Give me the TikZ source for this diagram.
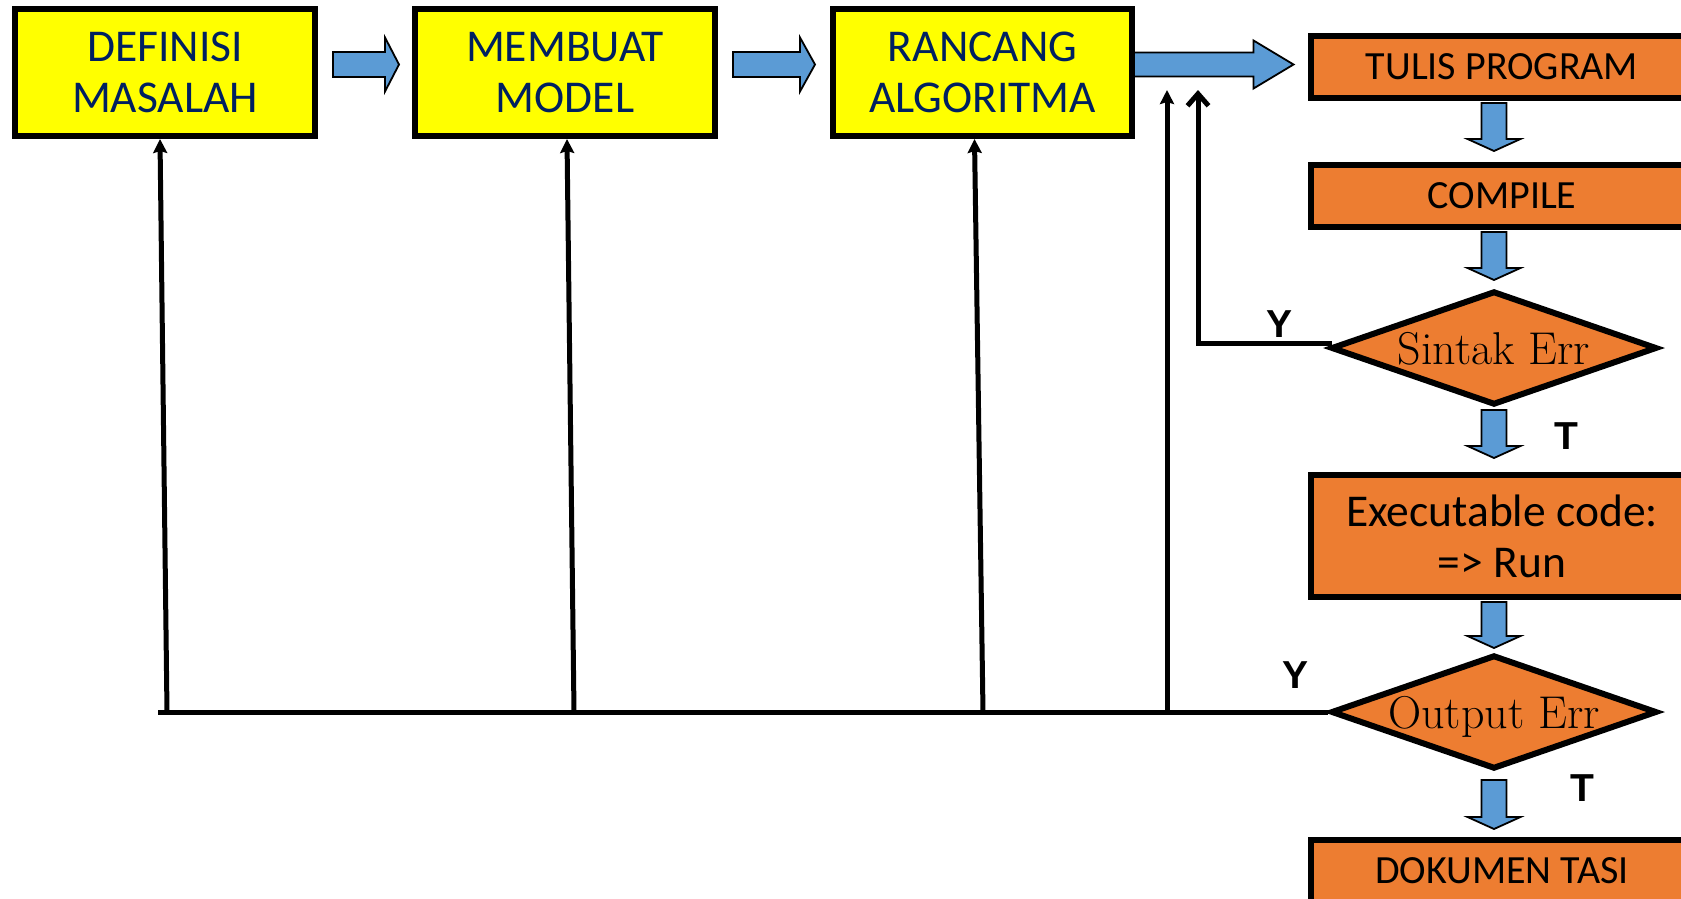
\documentclass[tikz,border=0pt]{standalone}
\usepackage{fontspec}
\newfontfamily\boxfont{Carlito}
\newfontfamily\lblfont{Liberation Sans}
\usetikzlibrary{shapes.geometric,calc,arrows.meta}
\definecolor{boxyellow}{RGB}{255,255,0}
\definecolor{boxorange}{RGB}{237,125,49}
\definecolor{flowblue}{RGB}{91,155,213}
\definecolor{navytext}{RGB}{0,32,96}

\tikzset{
  stagebox/.style={draw=black, line width=6pt, fill=boxyellow, text=navytext,
    minimum width=300pt, minimum height=127pt, align=center, inner sep=0pt,
    font=\boxfont\fontsize{45.5}{51}\selectfont},
  codebox/.style={draw=black, line width=6pt, fill=boxorange, text=black,
    minimum width=383pt, minimum height=62pt, align=center, inner sep=0pt,
    font=\boxfont\fontsize{40}{46}\selectfont},
  decision/.style={diamond, draw=black, line width=6pt, fill=boxorange,
    aspect=2.86, minimum width=326pt, minimum height=114pt, inner sep=0pt,
    text height=32pt, text depth=0pt, font=\fontsize{46}{50}\selectfont},
  blockarrow/.style={fill=flowblue, draw=black, line width=1.8pt, line join=miter},
  feedback/.style={draw=black, line width=5pt},
  backtip/.style={-{Stealth[length=14pt,width=14pt,inset=2pt]}},
  looptip/.style={-{Straight Barb[length=12pt,width=21pt]}},
  branchlabel/.style={font=\lblfont\bfseries\fontsize{39}{39}\selectfont, inner sep=0pt},
}

% horizontal block arrow: start, tip, half shaft, half head, head length
\newcommand\hflow[5]{%
  \draw[blockarrow] let \p1=#1, \p2=#2 in
    (\x1,\y1+#3) -- (\x2-#5,\y1+#3) -- (\x2-#5,\y1+#4) -- (\x2,\y1)
    -- (\x2-#5,\y1-#4) -- (\x2-#5,\y1-#3) -- (\x1,\y1-#3) -- cycle;}
% downward block arrow: start, tip
\newcommand\vflow[2]{%
  \draw[blockarrow] let \p1=#1, \p2=#2 in
    (\x1-12.5pt,\y1) -- (\x1-12.5pt,\y2+12pt) -- (\x1-26.5pt,\y2+12pt) -- (\x1,\y2)
    -- (\x1+26.5pt,\y2+12pt) -- (\x1+12.5pt,\y2+12pt) -- (\x1+12.5pt,\y1) -- cycle;}

\begin{document}
\begin{tikzpicture}[x=1pt,y=-1pt]
\useasboundingbox (0,0) rectangle (1681,899);
\clip (0,0) rectangle (1681,899);

% design stages
\node[stagebox] (def) at (165,72.5) {DEFINISI\\MASALAH};
\node[stagebox] (mem) at (565,72.5) {MEMBUAT\\MODEL};
\node[stagebox, minimum width=299pt] (ran) at (982.5,72.5) {RANCANG\\ALGORITMA};

% implementation stages
\node[codebox] (tulis) at (1502,67) {TULIS PROGRAM};
\node[codebox] (comp) at (1502,196) {COMPILE};
\node[decision] (d1) at (1494,348) {Sintak Err};
\node[codebox, minimum height=122pt, font=\boxfont\fontsize{45.5}{51}\selectfont] (exec) at (1502,536) {Executable code:\\=> Run};
\node[decision] (d2) at (1494,712) {Output Err};
\node[codebox] (dok) at (1502,871) {DOKUMEN TASI};

% forward flow
\hflow{($(def.east)+(15,-8)$)}{($(mem.west)+(-13,-8)$)}{12.5pt}{27pt}{14pt}
\hflow{($(mem.east)+(15,-8)$)}{($(ran.west)+(-15,-8)$)}{12.5pt}{27pt}{15pt}
\hflow{($(ran.east)+(-1,-8)$)}{($(tulis.west)+(-14,-3)$)}{12pt}{24pt}{40pt}

\coordinate (a1) at (tulis.south -| d1.center);
\coordinate (b1) at (comp.north -| d1.center);
\coordinate (a2) at (comp.south -| d1.center);
\coordinate (b3) at (exec.north -| d1.center);
\coordinate (a4) at (exec.south -| d1.center);
\coordinate (b5) at (dok.north -| d1.center);
\vflow{($(a1)+(0,2)$)}{($(b1)+(0,-11)$)}
\vflow{($(a2)+(0,2)$)}{($(d1.north)+(0,-8)$)}
\vflow{($(d1.south)+(0,2)$)}{($(b3)+(0,-14)$)}
\vflow{($(a4)+(0,2)$)}{($(d2.north)+(0,-4)$)}
\vflow{($(d2.south)+(0,8)$)}{($(b5)+(0,-8)$)}

% syntax error loop
\coordinate (ys) at ($(d1.west)+(4,-5)$);
\coordinate (lp) at (1198,90);
\draw[feedback, looptip] (ys) -- (ys -| lp) -- (lp);

% output error feedback
\coordinate (bl) at (158,712);
\draw[feedback] (d2.west) -- (bl);
\coordinate (j1) at (167,712);
\coordinate (j2) at (574,712);
\coordinate (j3) at (983,712);
\coordinate (j4) at (1167,712);
\coordinate (t4) at (1167,90);
\draw[feedback, backtip] (j1) -- ($(def.south)+(-5,0)$);
\draw[feedback, backtip] (j2) -- ($(mem.south)+(2,0)$);
\draw[feedback, backtip] (j3) -- ($(ran.south)+(-8,0)$);
\draw[feedback, backtip] (j4) -- (t4);

% branch labels
\node[branchlabel] (y1) at (1279,324) {Y};
\node[branchlabel] (t1) at (1566,436) {T};
\node[branchlabel] (y2) at (1295,675) {Y};
\node[branchlabel] (t2) at (1582,788) {T};
\end{tikzpicture}
\end{document}
